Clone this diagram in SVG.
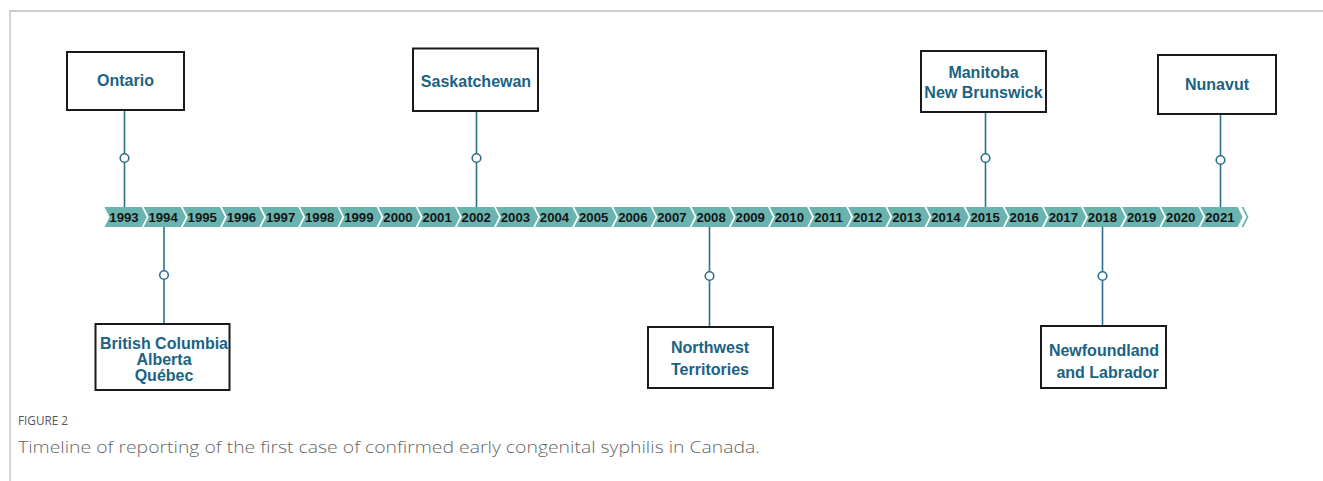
<svg xmlns="http://www.w3.org/2000/svg" width="1323" height="481" viewBox="0 0 1323 481">
<style>
.frame{stroke:#bdbdbd;stroke-width:1.3;fill:none}
.chev{fill:#6ab4af}
.yr{font-family:"Liberation Sans",Arial,sans-serif;font-weight:bold;font-size:13.2px;fill:#161616;text-anchor:middle}
.box{fill:#fff;stroke:#1a1a1a;stroke-width:2}
.lbl{font-family:"Liberation Sans",Arial,sans-serif;font-weight:bold;font-size:16px;fill:#1b6383;text-anchor:middle}
.conn{stroke:#2d6f8e;stroke-width:1.6;fill:none}
.dot{fill:#fff;stroke:#2d6f8e;stroke-width:1.6}
.cap1{font-family:"Open Sans",sans-serif;font-size:13.5px;fill:#555}
.cap2{font-family:"Open Sans",sans-serif;font-weight:300;font-size:17px;fill:#666}
</style>
<defs>
<polygon id="chv" points="-19.5,207 17.7,207 22.7,217 17.7,227 -19.5,227 -14.5,217"/>
</defs>
<path class="frame" d="M10,481 V11 H1323"/>
<g id="timeline">
<use href="#chv" class="chev" x="124"/><use href="#chv" class="chev" x="163.14"/><use href="#chv" class="chev" x="202.28"/><use href="#chv" class="chev" x="241.42"/><use href="#chv" class="chev" x="280.56"/><use href="#chv" class="chev" x="319.7"/><use href="#chv" class="chev" x="358.84"/><use href="#chv" class="chev" x="397.98"/><use href="#chv" class="chev" x="437.12"/><use href="#chv" class="chev" x="476.26"/><use href="#chv" class="chev" x="515.4"/><use href="#chv" class="chev" x="554.54"/><use href="#chv" class="chev" x="593.68"/><use href="#chv" class="chev" x="632.82"/><use href="#chv" class="chev" x="671.96"/><use href="#chv" class="chev" x="711.1"/><use href="#chv" class="chev" x="750.24"/><use href="#chv" class="chev" x="789.38"/><use href="#chv" class="chev" x="828.52"/><use href="#chv" class="chev" x="867.66"/><use href="#chv" class="chev" x="906.8"/><use href="#chv" class="chev" x="945.94"/><use href="#chv" class="chev" x="985.08"/><use href="#chv" class="chev" x="1024.22"/><use href="#chv" class="chev" x="1063.36"/><use href="#chv" class="chev" x="1102.5"/><use href="#chv" class="chev" x="1141.64"/><use href="#chv" class="chev" x="1180.78"/><use href="#chv" class="chev" x="1219.92"/>
<polygon class="chev" points="1241.5,207 1243.5,207 1248.5,217 1243.5,227 1241.5,227 1246.5,217"/>
<text class="yr" x="124" y="221.8">1993</text><text class="yr" x="163.14" y="221.8">1994</text><text class="yr" x="202.28" y="221.8">1995</text><text class="yr" x="241.42" y="221.8">1996</text><text class="yr" x="280.56" y="221.8">1997</text><text class="yr" x="319.7" y="221.8">1998</text><text class="yr" x="358.84" y="221.8">1999</text><text class="yr" x="397.98" y="221.8">2000</text><text class="yr" x="437.12" y="221.8">2001</text><text class="yr" x="476.26" y="221.8">2002</text><text class="yr" x="515.4" y="221.8">2003</text><text class="yr" x="554.54" y="221.8">2004</text><text class="yr" x="593.68" y="221.8">2005</text><text class="yr" x="632.82" y="221.8">2006</text><text class="yr" x="671.96" y="221.8">2007</text><text class="yr" x="711.1" y="221.8">2008</text><text class="yr" x="750.24" y="221.8">2009</text><text class="yr" x="789.38" y="221.8">2010</text><text class="yr" x="828.52" y="221.8">2011</text><text class="yr" x="867.66" y="221.8">2012</text><text class="yr" x="906.8" y="221.8">2013</text><text class="yr" x="945.94" y="221.8">2014</text><text class="yr" x="985.08" y="221.8">2015</text><text class="yr" x="1024.22" y="221.8">2016</text><text class="yr" x="1063.36" y="221.8">2017</text><text class="yr" x="1102.5" y="221.8">2018</text><text class="yr" x="1141.64" y="221.8">2019</text><text class="yr" x="1180.78" y="221.8">2020</text><text class="yr" x="1219.92" y="221.8">2021</text>
</g>
<g id="connectors">
<path class="conn" d="M124.5,110 V207"/>
<path class="conn" d="M164,227 V324"/>
<path class="conn" d="M476.5,111 V207"/>
<path class="conn" d="M709.5,227 V327"/>
<path class="conn" d="M985.5,112 V207"/>
<path class="conn" d="M1102.5,227 V326"/>
<path class="conn" d="M1220.5,114 V207"/>
<circle class="dot" cx="124.5" cy="158" r="4.3"/>
<circle class="dot" cx="164" cy="275" r="4.3"/>
<circle class="dot" cx="476.5" cy="158" r="4.3"/>
<circle class="dot" cx="709.5" cy="276" r="4.3"/>
<circle class="dot" cx="985.5" cy="158" r="4.3"/>
<circle class="dot" cx="1102.5" cy="276" r="4.3"/>
<circle class="dot" cx="1220.5" cy="160" r="4.3"/>
</g>
<g id="ontario"><rect class="box" x="67" y="52" width="117" height="58"/><text class="lbl" x="125.5" y="86">Ontario</text></g>
<g id="bc"><rect class="box" x="95.5" y="324" width="134" height="66"/><text class="lbl" x="164" y="349">British Columbia</text><text class="lbl" x="164" y="364.5">Alberta</text><text class="lbl" x="164" y="381">Québec</text></g>
<g id="saskatchewan"><rect class="box" x="413" y="48.5" width="125" height="62.5"/><text class="lbl" x="476" y="87">Saskatchewan</text></g>
<g id="nwt"><rect class="box" x="648" y="327" width="125" height="61"/><text class="lbl" x="710" y="353">Northwest</text><text class="lbl" x="710" y="375">Territories</text></g>
<g id="manitoba"><rect class="box" x="921" y="51" width="125" height="61"/><text class="lbl" x="983.5" y="78">Manitoba</text><text class="lbl" x="983.5" y="98">New Brunswick</text></g>
<g id="newfoundland"><rect class="box" x="1041" y="326" width="125" height="62"/><text class="lbl" x="1104" y="356">Newfoundland</text><text class="lbl" x="1107.5" y="378">and Labrador</text></g>
<g id="nunavut"><rect class="box" x="1158" y="55" width="118" height="59"/><text class="lbl" x="1217" y="90">Nunavut</text></g>
<text class="cap1" x="18" y="425" textLength="50" lengthAdjust="spacingAndGlyphs">FIGURE 2</text>
<text class="cap2" x="18" y="453" textLength="742" lengthAdjust="spacingAndGlyphs">Timeline of reporting of the first case of confirmed early congenital syphilis in Canada.</text>
</svg>
